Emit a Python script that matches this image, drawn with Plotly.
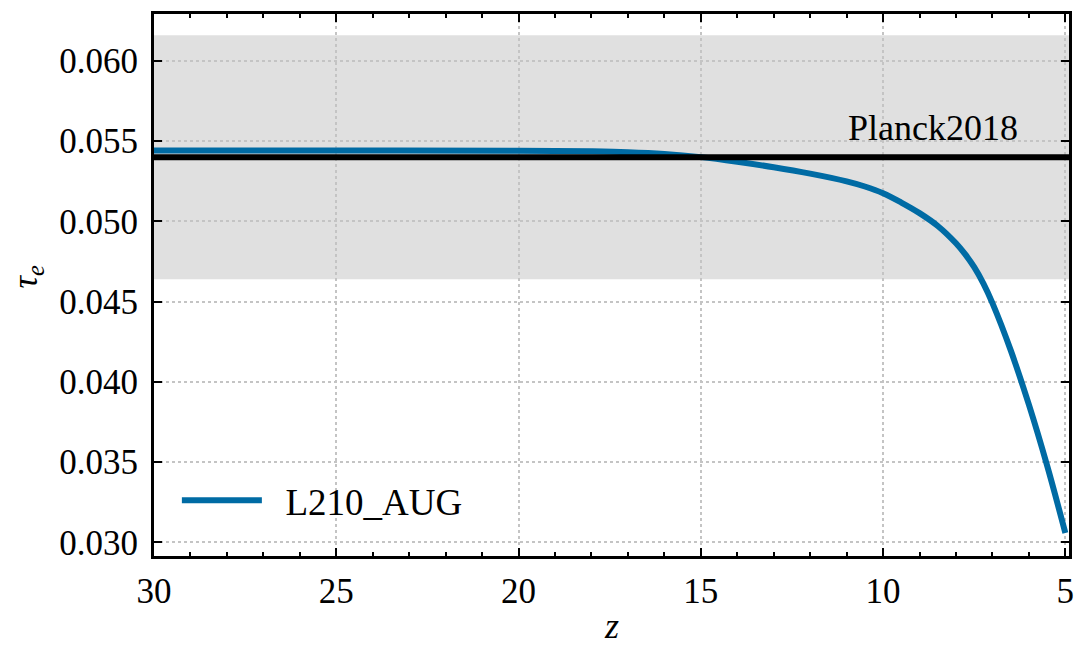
import plotly.graph_objects as go

# Data
z = [30, 25, 20, 18, 17, 16, 15, 14, 13, 12, 11, 10.5, 10, 9.5, 9, 8.5, 8, 7.75,
     7.5, 7.25, 7, 6.5, 6, 5.5, 5.0]
tau_e = [0.05443, 0.05443, 0.05441, 0.05437, 0.05432, 0.05421, 0.05401, 0.05372,
         0.05338, 0.05298, 0.05250, 0.05218, 0.05176, 0.05118, 0.05052, 0.04972,
         0.04864, 0.04796, 0.04715, 0.04614, 0.04491, 0.04198, 0.03858, 0.03478,
         0.03058]
series_name = "L210_AUG"

planck_tau = 0.054
planck_sigma = 0.0076
planck_label = "Planck2018"
planck_label_z = 8.62

y_ticks = [0.030, 0.035, 0.040, 0.045, 0.050, 0.055, 0.060]
x_ticks = [30, 25, 20, 15, 10, 5]

FONT = "Liberation Serif"

fig = go.Figure()
fig.add_trace(go.Scatter(
    x=z, y=tau_e, mode="lines", name="\u2002" + series_name,
    line=dict(color="#006BA4", width=6, shape="spline", smoothing=1.0),
))

# Planck band and central value
fig.add_shape(type="rect", xref="paper", x0=0, x1=1, yref="y",
              y0=planck_tau - planck_sigma, y1=planck_tau + planck_sigma,
              fillcolor="#e0e0e0", line=dict(width=0), layer="below")
fig.add_shape(type="line", xref="paper", x0=0, x1=1, yref="y",
              y0=planck_tau, y1=planck_tau,
              line=dict(color="black", width=6), layer="above")
fig.add_annotation(x=planck_label_z, y=planck_tau, xref="x", yref="y",
                   text=planck_label, showarrow=False, yanchor="bottom",
                   yshift=7, font=dict(family=FONT, size=36, color="black"))

# Axis titles
fig.add_annotation(x=0.5, y=-0.170, xref="paper", yref="paper",
                   text="<i>z</i>", showarrow=False, xanchor="center", yanchor="bottom",
                   font=dict(family=FONT, size=36, color="black"))
fig.add_annotation(x=-0.138, y=0.515, xref="paper", yref="paper",
                   text="<i>τ</i><sub><i>e</i></sub>", showarrow=False, textangle=-90,
                   xanchor="center", yanchor="middle",
                   font=dict(family=FONT, size=35, color="black"))

tick_font = dict(family=FONT, size=35, color="black")

fig.update_layout(
    width=1077, height=650,
    margin=dict(l=154, r=8, t=14, b=94),
    font=dict(family=FONT, size=35, color="black"),
    paper_bgcolor="white", plot_bgcolor="white",
    showlegend=True,
    legend=dict(x=0.025, y=0.045, xanchor="left", yanchor="bottom",
                bgcolor="rgba(0,0,0,0)", itemwidth=80,
                font=dict(family=FONT, size=37, color="black")),
    xaxis=dict(
        range=[30, 4.9], tickmode="array", tickvals=x_ticks,
        tickfont=tick_font, ticklabelstandoff=2,
        showline=True, linewidth=3, linecolor="black", mirror="allticks",
        ticks="inside", ticklen=8, tickwidth=2, tickcolor="black",
        showgrid=True, gridcolor="#c4c4c4", gridwidth=2, griddash="dot",
        zeroline=False, automargin=False,
        minor=dict(dtick=1, ticks="inside", ticklen=4, tickwidth=1.5,
                   tickcolor="black", showgrid=False),
    ),
    yaxis=dict(
        range=[0.02915, 0.06293], tickmode="array", tickvals=y_ticks,
        tickformat=".3f", tickfont=tick_font, ticklabelstandoff=6,
        showline=True, linewidth=3, linecolor="black", mirror="allticks",
        ticks="inside", ticklen=8, tickwidth=2, tickcolor="black",
        showgrid=True, gridcolor="#c4c4c4", gridwidth=2, griddash="dot",
        zeroline=False, automargin=False,
    ),
)

fig.write_html("out.html")
